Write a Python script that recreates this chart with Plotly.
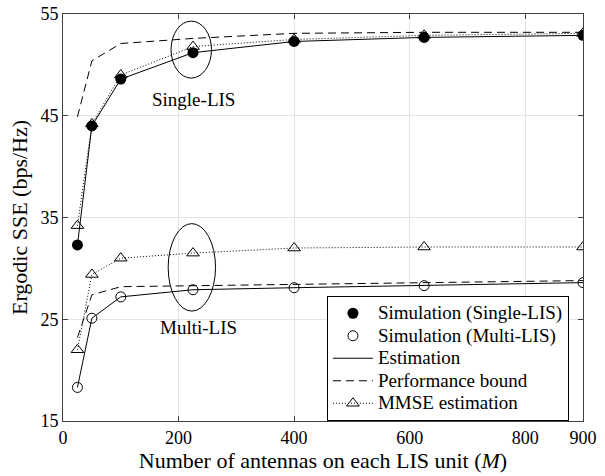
import plotly.graph_objects as go

M = [25, 50, 100, 225, 400, 625, 900]

sim_single = [32.3, 44.0, 48.6, 51.2, 52.3, 52.7, 52.9]
est_single = [32.3, 44.0, 48.6, 51.2, 52.3, 52.7, 52.9]
bound_single = [44.9, 50.4, 52.1, 52.6, 53.1, 53.2, 53.2]
mmse_single = [34.2, 44.2, 49.0, 51.8, 52.5, 52.9, 53.1]

sim_multi = [18.3, 25.1, 27.2, 27.9, 28.1, 28.3, 28.6]
est_multi = [18.3, 25.1, 27.2, 27.9, 28.1, 28.3, 28.6]
bound_multi = [23.2, 27.4, 28.2, 28.3, 28.4, 28.55, 28.8]
mmse_multi = [22.0, 29.4, 31.0, 31.5, 32.0, 32.1, 32.1]

x_ticks = [0, 200, 400, 600, 800, 900]
y_ticks = [15, 25, 35, 45, 55]

FONT = "Liberation Serif"


def lg(s):
    return "<span style='font-size:19px'>" + s + "</span>"


fig = go.Figure()

for ys, show in [(est_single, True), (est_multi, False)]:
    fig.add_trace(go.Scatter(x=M, y=ys, mode="lines", name=lg("Estimation"),
                             line=dict(color="black", width=1), showlegend=show,
                             legendrank=3))
for ys, show in [(bound_single, True), (bound_multi, False)]:
    fig.add_trace(go.Scatter(x=M, y=ys, mode="lines", name=lg("Performance bound"),
                             line=dict(color="black", width=1, dash="8px,5px"), showlegend=show,
                             legendrank=4))
for ys, show in [(mmse_single, True), (mmse_multi, False)]:
    fig.add_trace(go.Scatter(x=M, y=ys, mode="lines+markers", name=lg("MMSE estimation"),
                             line=dict(color="black", width=1, dash="1px,2px"),
                             marker=dict(symbol="triangle-up-open", size=11, color="black",
                                         line=dict(width=1)),
                             showlegend=show, legendrank=5))

fig.add_trace(go.Scatter(x=M, y=sim_single, mode="markers", name=lg("Simulation (Single-LIS)"),
                         marker=dict(symbol="circle", size=11, color="black"),
                         legendrank=1))
fig.add_trace(go.Scatter(x=M, y=sim_multi, mode="markers", name=lg("Simulation (Multi-LIS)"),
                         marker=dict(symbol="circle-open", size=10, color="black",
                                     line=dict(width=1)),
                         legendrank=2))

ell = [(222, 51.5, 35, 2.8), (223, 30.1, 41, 4.3)]
for cx, cy, rx, ry in ell:
    fig.add_shape(type="circle", xref="x", yref="y", x0=cx - rx, x1=cx + rx,
                  y0=cy - ry, y1=cy + ry, line=dict(color="black", width=1))

fig.add_annotation(x=225, y=46.6, text="Single-LIS", showarrow=False,
                   font=dict(family=FONT, size=19, color="black"))
fig.add_annotation(x=234, y=24.2, text="Multi-LIS", showarrow=False,
                   font=dict(family=FONT, size=19, color="black"))

axis_common = dict(showline=True, linecolor="#404040", linewidth=1, mirror="ticks",
                   ticks="inside", ticklen=5, tickcolor="#404040",
                   showgrid=True, gridcolor="#e3e3e3", gridwidth=1, automargin=False,
                   zeroline=False, tickfont=dict(family=FONT, size=18, color="black"))

fig.update_xaxes(range=[0, 900], tickvals=x_ticks,
                 title=dict(text="Number of antennas on each LIS unit (<i>M</i>)",
                            font=dict(family=FONT, size=22, color="black"), standoff=2),
                 **axis_common)
fig.update_yaxes(range=[15, 55], tickvals=y_ticks,
                 title=dict(text="Ergodic SSE (bps/Hz)",
                            font=dict(family=FONT, size=22, color="black"), standoff=6),
                 **axis_common)

fig.update_layout(
    width=605, height=476,
    margin=dict(l=63, r=22, t=14, b=55),
    plot_bgcolor="white", paper_bgcolor="white",
    legend=dict(x=0.973, y=0, xanchor="right", yanchor="bottom",
                bordercolor="black", borderwidth=1, bgcolor="white",
                font=dict(family=FONT, size=15, color="black"),
                tracegroupgap=0, itemwidth=40),
)

fig.write_html("out.html", config={"displayModeBar": False},
               post_script="document.body.style.margin='0';document.body.style.overflow='hidden';")
